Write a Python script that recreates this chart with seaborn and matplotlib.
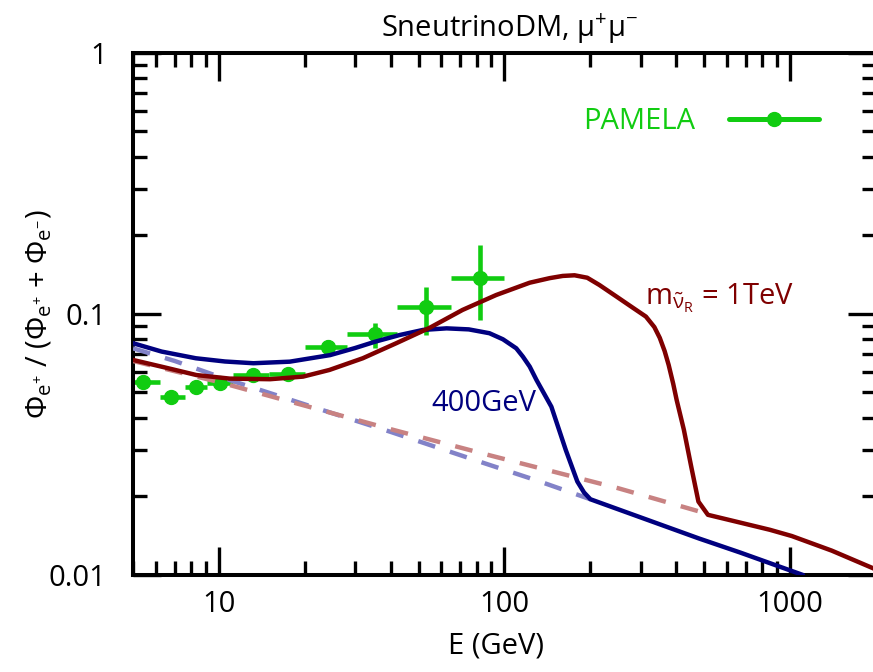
import matplotlib
matplotlib.use("Agg")
import matplotlib.pyplot as plt
import numpy as np
import pandas as pd
import seaborn as sns
from matplotlib.lines import Line2D
from matplotlib.ticker import FixedLocator, FixedFormatter, LogLocator, NullFormatter

# ---------------- data ----------------
pamela_E = [5.42, 6.81, 8.29, 10.1, 13.15, 17.45, 24.1, 35.1, 53.3, 82.3]
pamela_E_lo = [5.0, 6.2, 7.6, 9.1, 11.2, 15.0, 20.0, 28.0, 42.0, 65.0]
pamela_E_hi = [6.2, 7.6, 9.1, 11.2, 15.0, 20.0, 28.0, 42.0, 65.0, 100.0]
pamela_frac = [0.0550, 0.0482, 0.0526, 0.0542, 0.0582, 0.0587, 0.0745, 0.0835, 0.1060, 0.1368]
pamela_err_lo = [0.002, 0.002, 0.002, 0.002, 0.002, 0.002, 0.0045, 0.0097, 0.023, 0.042]
pamela_err_hi = [0.002, 0.002, 0.002, 0.002, 0.002, 0.002, 0.0052, 0.0085, 0.021, 0.0467]

dm400_E = [5, 6.3, 8.3, 10.5, 13.2, 17.7, 24.5, 30, 35.2, 43, 51.9, 62.7, 75, 88.6,
           98.8, 110, 116, 122.6, 129.5, 146, 164, 180, 190, 200, 480, 668, 1111]
dm400_frac = [0.0772, 0.0717, 0.0676, 0.0657, 0.0647, 0.0656, 0.0695, 0.0740, 0.0782,
              0.0830, 0.0868, 0.0880, 0.0872, 0.0843, 0.0799, 0.0738, 0.0686, 0.0628,
              0.0558, 0.0441, 0.0301, 0.0228, 0.0207, 0.0195, 0.0138, 0.0122, 0.0100]

dm1000_E = [5, 6.4, 8.34, 10.9, 15.1, 19.7, 24.4, 31.9, 41.8, 54.8, 71.3, 93.6, 122.6,
            144, 160, 176, 195, 215, 247, 280, 313, 335, 350, 364, 376, 390, 401, 425,
            451, 478, 516, 665, 850, 1015, 1400, 2000]
dm1000_frac = [0.0666, 0.0625, 0.0583, 0.0565, 0.0562, 0.0575, 0.0610, 0.0676, 0.0772,
               0.0885, 0.1035, 0.1181, 0.1316, 0.1370, 0.1397, 0.1405, 0.1375, 0.1290,
               0.1164, 0.1060, 0.0976, 0.0890, 0.0809, 0.0720, 0.0637, 0.0540, 0.0468,
               0.0360, 0.0260, 0.0191, 0.0170, 0.0159, 0.0149, 0.0141, 0.0124, 0.0105]

bg400_E = [5, 7, 10, 20, 40, 85, 130, 200]
bg400_frac = [0.0738, 0.066, 0.0575, 0.0450, 0.0353, 0.0268, 0.0230, 0.0195]

bg1000_E = [5, 10, 20, 41, 88, 250, 500]
bg1000_frac = [0.066, 0.0548, 0.0445, 0.0359, 0.0288, 0.0215, 0.0173]

x_ticks = [10, 100, 1000]
x_ticklabels = ["10", "100", "1000"]
y_ticks = [0.01, 0.1, 1]
y_ticklabels = ["0.01", "0.1", "1"]

# ---------------- style ----------------
sns.set_theme(style="ticks")
plt.rcParams["font.family"] = ["Open Sans", "DejaVu Sans"]
plt.rcParams["mathtext.fontset"] = "custom"
plt.rcParams["mathtext.rm"] = "Open Sans"
plt.rcParams["mathtext.it"] = "Open Sans:italic"
plt.rcParams["mathtext.bf"] = "Open Sans:bold"

GREEN = "#11cc11"
DARKRED = "#7f0000"
NAVY = "#00007f"
LIGHTRED = "#c88282"
LIGHTBLUE = "#8282c8"
LW = 3.2
FS = 21

W, H = 873, 672
fig = plt.figure(figsize=(W / 100, H / 100), dpi=100)
ax_left, ax_right, ax_top, ax_bottom = 133, 875.9, 52.7, 575
ax = fig.add_axes([ax_left / W, 1 - ax_bottom / H, (ax_right - ax_left) / W,
                   (ax_bottom - ax_top) / H])
ax.set_xscale("log")
ax.set_yscale("log")

# PAMELA points
E = np.array(pamela_E)
xerr = [E - np.array(pamela_E_lo), np.array(pamela_E_hi) - E]
yerr = [pamela_err_lo, pamela_err_hi]
ax.errorbar(pamela_E, pamela_frac, xerr=xerr, yerr=yerr, fmt="o", color=GREEN,
            ms=10, elinewidth=3.3, capsize=0, zorder=2)

dash = (4.0, 3.5)
sns.lineplot(x=bg400_E, y=bg400_frac, ax=ax, color=LIGHTBLUE, lw=LW,
             estimator=None, sort=False, zorder=3)
ax.lines[-1].set_dashes(dash)
sns.lineplot(x=bg1000_E, y=bg1000_frac, ax=ax, color=LIGHTRED, lw=LW,
             estimator=None, sort=False, zorder=3)
ax.lines[-1].set_dashes(dash)
sns.lineplot(x=dm400_E, y=dm400_frac, ax=ax, color=NAVY, lw=LW,
             estimator=None, sort=False, zorder=4)
sns.lineplot(x=dm1000_E, y=dm1000_frac, ax=ax, color=DARKRED, lw=LW,
             estimator=None, sort=False, zorder=4)
for ln in ax.lines:
    ln.set_solid_joinstyle("round")
    ln.set_dash_capstyle("butt")

ax.set_xlim(5, 2000)
ax.set_ylim(0.01, 1)

# ticks
ax.xaxis.set_major_locator(FixedLocator(x_ticks))
ax.xaxis.set_major_formatter(FixedFormatter(x_ticklabels))
ax.yaxis.set_major_locator(FixedLocator(y_ticks))
ax.yaxis.set_major_formatter(FixedFormatter(y_ticklabels))
ax.xaxis.set_minor_locator(LogLocator(base=10, subs=np.arange(2, 10), numticks=20))
ax.yaxis.set_minor_locator(LogLocator(base=10, subs=np.arange(2, 10), numticks=20))
ax.xaxis.set_minor_formatter(NullFormatter())
ax.yaxis.set_minor_formatter(NullFormatter())
ax.tick_params(which="both", direction="in", top=True, right=True, color="black",
               width=2.4)
ax.tick_params(which="major", length=20)
ax.tick_params(which="minor", length=10)
ax.tick_params(axis="x", which="major", labelsize=FS, pad=11, labelcolor="black")
ax.tick_params(axis="y", which="major", labelsize=FS, pad=19, labelcolor="black")
for s in ax.spines.values():
    s.set_linewidth(2.9)
    s.set_color("black")
ax.grid(False)

# labels
ax.set_xlabel("E (GeV)", fontsize=FS, color="black")
ax.xaxis.set_label_coords((495.5 - ax_left) / (ax_right - ax_left), -0.108)
ax.set_ylabel(r"Φ$_{\mathrm{e}^{+}}$ / (Φ$_{\mathrm{e}^{+}}$ + Φ$_{\mathrm{e}^{-}}$)",
              fontsize=FS, color="black")
ax.yaxis.set_label_coords((54 - ax_left) / (ax_right - ax_left), 0.5)
fig.text(510 / W, 1 - 36.7 / H, r"SneutrinoDM, μ$^{+}$μ$^{-}$", fontsize=FS,
         ha="center", va="baseline", color="black")

# annotations
ax.text(55.6, 0.0452, "400GeV", color=NAVY, fontsize=FS, ha="left", va="center")
ax.text(310, 0.115, r"m$_{\tilde{\mathrm{\nu}}_{\mathrm{R}}}$ = 1TeV", color=DARKRED,
        fontsize=FS, ha="left", va="center")

# legend
handle = Line2D([], [], color=GREEN, lw=3.6, marker="o", ms=10)
ax.legend([handle], ["PAMELA"], loc="center right",
          bbox_to_anchor=(819 / W, 1 - 121.5 / H), bbox_transform=fig.transFigure,
          frameon=False, markerfirst=False, fontsize=FS, labelcolor=GREEN,
          handlelength=3.1, handletextpad=1.15, borderpad=0, borderaxespad=0)

fig.savefig("out.png", dpi=100)
